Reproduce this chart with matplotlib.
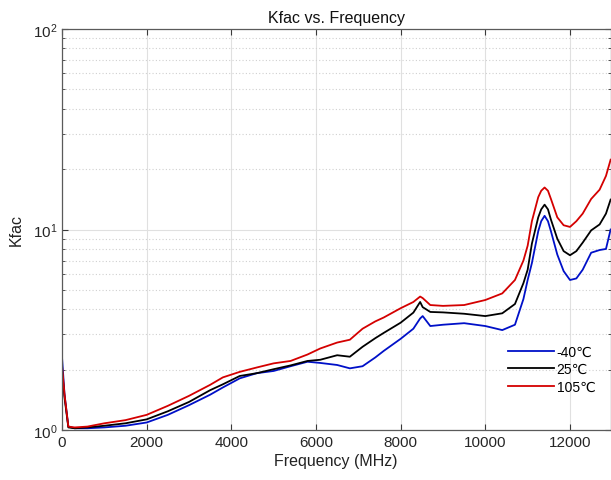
import matplotlib
matplotlib.use("Agg")
import matplotlib.pyplot as plt
from matplotlib.ticker import LogLocator, NullFormatter, FixedLocator

freq = [0, 60, 150, 300, 600, 1000, 1500, 2000, 2500, 3000, 3500, 3800, 4200,
        4600, 5000, 5400, 5800, 6100, 6500, 6800, 7100, 7400, 7600, 8000, 8300,
        8460, 8520, 8700, 9000, 9500, 10000, 10400, 10700, 10900, 11000, 11100, 11250,
        11320, 11400, 11480, 11550, 11700, 11850, 12000, 12150, 12300, 12500, 12700,
        12850, 12960]

k_m40 = [2.31, 1.5, 1.04, 1.02, 1.02, 1.03, 1.05, 1.09, 1.19, 1.33, 1.5, 1.63, 1.81,
         1.92, 1.97, 2.08, 2.19, 2.16, 2.11, 2.03, 2.08, 2.3, 2.48, 2.85, 3.2,
         3.6, 3.7, 3.3, 3.35, 3.41, 3.3, 3.15, 3.35, 4.5, 5.6, 6.8, 9.8,
         11.0, 11.7, 11.0, 9.8, 7.5, 6.2, 5.6, 5.7, 6.3, 7.66, 7.9,
         8.0, 10.0]

k_25 = [2.0, 1.45, 1.03, 1.02, 1.03, 1.05, 1.08, 1.13, 1.24, 1.38, 1.58, 1.69, 1.86,
        1.92, 2.01, 2.1, 2.21, 2.24, 2.36, 2.32, 2.6, 2.87, 3.05, 3.43, 3.85,
        4.35, 4.1, 3.88, 3.86, 3.8, 3.7, 3.82, 4.25, 5.4, 6.3, 8.5, 11.5,
        12.6, 13.3, 12.6, 11.2, 9.0, 7.8, 7.44, 7.8, 8.6, 9.9, 10.6,
        12.0, 14.1]

k_105 = [2.1, 1.5, 1.04, 1.03, 1.04, 1.08, 1.12, 1.19, 1.32, 1.48, 1.68, 1.83, 1.95,
         2.05, 2.15, 2.21, 2.38, 2.55, 2.73, 2.82, 3.2, 3.48, 3.64, 4.05, 4.35,
         4.63, 4.55, 4.2, 4.16, 4.2, 4.45, 4.8, 5.6, 7.0, 8.3, 11.0, 14.5,
         15.6, 16.2, 15.6, 14.2, 11.5, 10.5, 10.3, 11.0, 12.0, 14.2, 15.8,
         18.5, 22.3]

labels = ["-40\u2103", "25\u2103", "105\u2103"]
colors = ["#0010c8", "#000000", "#d40000"]

plt.rcParams['font.family'] = ['Liberation Sans', 'DejaVu Sans']

fig = plt.figure(figsize=(6.11, 4.81), dpi=100)
ax = fig.add_axes([62/611, 50/481, 548.5/611, 401/481])

for y, lab, c in zip([k_m40, k_25, k_105], labels, colors):
    ax.plot(freq, y, color=c, lw=1.3, label=lab)

ax.set_yscale('log')
ax.set_xlim(0, 12957)
ax.set_ylim(1, 100)
ax.xaxis.set_major_locator(FixedLocator([0, 2000, 4000, 6000, 8000, 10000, 12000]))
ax.yaxis.set_major_locator(LogLocator(base=10, numticks=5))
ax.yaxis.set_minor_locator(LogLocator(base=10, subs=range(2, 10), numticks=20))
ax.yaxis.set_minor_formatter(NullFormatter())

ax.grid(True, which='major', axis='both', color='#e0e0e0', lw=0.8, ls='-')
ax.grid(True, which='minor', axis='y', color='#d0d0d0', lw=0.8, ls=(0, (1, 2)))
ax.set_axisbelow(True)

for s in ax.spines.values():
    s.set_color('#5a5a5a')
    s.set_linewidth(0.9)

ax.tick_params(axis='both', which='both', direction='in', top=True, right=True,
               colors='#3a3a3a', labelcolor='#262626', labelsize=11)
ax.tick_params(axis='both', which='major', length=4.5)
ax.tick_params(axis='y', which='minor', length=2.5)

ax.set_title("Kfac vs. Frequency", fontsize=11.5, color='#111111', pad=5)
ax.set_xlabel("Frequency (MHz)", fontsize=11.5, color='#222222', labelpad=3)
ax.set_ylabel("Kfac", fontsize=11.5, color='#222222', labelpad=6)

leg = ax.legend(loc='lower right', frameon=False, fontsize=10, handlelength=3.3,
                handletextpad=0.2, labelspacing=0.25, bbox_to_anchor=(0.995, 0.06))

fig.savefig("out.png", dpi=100)
